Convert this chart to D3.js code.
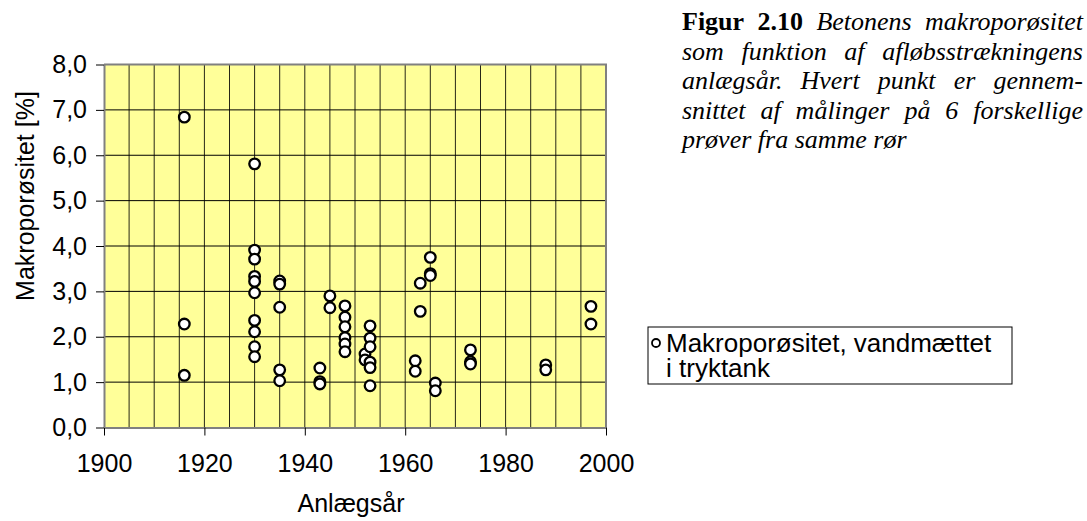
<!DOCTYPE html>
<html>
<head>
<meta charset="utf-8">
<script src="https://d3js.org/d3.v7.min.js"></script>
<style>
    body { margin: 0; background: #fff; }
    svg { display: block; }
    .axis text { font-family: 'Liberation Sans', Arial, sans-serif; font-size: 25px; fill: #000; }
    .axis .domain { stroke: #808080; stroke-width: 2px; }
    .axis .tick line { stroke: #000; }
</style>
</head>
<body>
<svg id="chart" width="1087" height="521"></svg>
<script>
    // data (year, macroporosity %)
    var years = [
        1916, 1916, 1916,
        1930, 1930, 1930, 1930, 1930, 1930, 1930, 1930, 1930, 1930,
        1935, 1935, 1935, 1935, 1935,
        1943, 1943, 1943,
        1945, 1945,
        1948, 1948, 1948, 1948, 1948, 1948,
        1952, 1952,
        1953, 1953, 1953, 1953, 1953, 1953,
        1962, 1962,
        1963, 1963,
        1965, 1965, 1965,
        1966, 1966,
        1973, 1973, 1973,
        1988, 1988,
        1997, 1997
    ];
    var porosity = [
        6.84, 2.28, 1.15,
        5.81, 3.91, 3.71, 3.33, 3.22, 2.97, 2.36, 2.11, 1.78, 1.56,
        3.23, 3.16, 2.65, 1.27, 1.03,
        1.31, 1.01, 0.96,
        2.90, 2.64,
        2.68, 2.43, 2.22, 1.98, 1.84, 1.67,
        1.62, 1.49,
        2.24, 1.97, 1.78, 1.44, 1.32, 0.92,
        1.47, 1.24,
        3.18, 2.56,
        3.75, 3.39, 3.35,
        0.98, 0.81,
        1.71, 1.45, 1.40,
        1.38, 1.27,
        2.67, 2.28
    ];
    var xTicks = [1900, 1920, 1940, 1960, 1980, 2000];
    var yTicks = [0, 1, 2, 3, 4, 5, 6, 7, 8];
    var xTitle = "Anlægsår";
    var yTitle = "Makroporøsitet [%]";
    var legendLines = ["Makroporøsitet, vandmættet", "i tryktank"];
    var captionLines = [
        [["Figur", "b"], ["2.10", "b"], ["Betonens", "i"], ["makroporøsitet", "i"]],
        [["som", "i"], ["funktion", "i"], ["af", "i"], ["afløbsstrækningens", "i"]],
        [["anlægsår.", "i"], ["Hvert", "i"], ["punkt", "i"], ["er", "i"], ["gennem-", "i"]],
        [["snittet", "i"], ["af", "i"], ["målinger", "i"], ["på", "i"], ["6", "i"], ["forskellige", "i"]],
        [["prøver fra samme rør", "i"]]
    ];

    var svg = d3.select("#chart");
    var plotLeft = 104, plotTop = 64.5, plotW = 502, plotH = 363;
    var font = "'Liberation Sans', Arial, sans-serif";

    var x = d3.scaleLinear().domain([1900, 2000]).range([plotLeft, plotLeft + plotW]);
    var y = d3.scaleLinear().domain([0, 8]).range([plotTop + plotH, plotTop]);

    // plot background
    svg.append("rect")
        .attr("x", plotLeft).attr("y", plotTop)
        .attr("width", plotW).attr("height", plotH)
        .attr("fill", "#ffff99");

    // gridlines
    var g = svg.append("g");
    g.selectAll(".vgrid").data(d3.range(1905, 2000, 5)).join("line")
        .attr("x1", d => x(d)).attr("x2", d => x(d))
        .attr("y1", plotTop).attr("y2", plotTop + plotH)
        .attr("stroke", "#000").attr("stroke-opacity", 0.85).attr("stroke-width", 1);
    g.selectAll(".hgrid").data(d3.range(1, 8)).join("line")
        .attr("x1", plotLeft).attr("x2", plotLeft + plotW)
        .attr("y1", d => y(d)).attr("y2", d => y(d))
        .attr("stroke", "#000").attr("stroke-width", 1);

    // border top / right
    svg.append("path")
        .attr("d", "M" + plotLeft + "," + plotTop + "H" + (plotLeft + plotW) + "V" + (plotTop + plotH))
        .attr("fill", "none").attr("stroke", "#808080").attr("stroke-width", 2);

    // axes
    svg.append("g").attr("class", "axis")
        .attr("transform", "translate(0," + (plotTop + plotH) + ")")
        .call(d3.axisBottom(x).tickValues(xTicks).tickSize(8).tickPadding(19).tickSizeOuter(0)
            .tickFormat(d3.format("d")));
    svg.append("g").attr("class", "axis")
        .attr("transform", "translate(" + plotLeft + ",0)")
        .call(d3.axisLeft(y).tickValues(yTicks).tickSize(8).tickPadding(9).tickSizeOuter(0)
            .tickFormat(d => d3.format(".1f")(d).replace(".", ",")));

    // axis titles
    svg.append("text")
        .attr("x", x(1950) - 4).attr("y", 512)
        .attr("text-anchor", "middle")
        .style("font-family", font).style("font-size", "25px")
        .text(xTitle);
    svg.append("text")
        .attr("transform", "translate(34,196) rotate(-90)")
        .attr("text-anchor", "middle")
        .style("font-family", font).style("font-size", "25px")
        .text(yTitle);

    // points
    svg.append("g").selectAll("circle").data(years).join("circle")
        .attr("cx", d => x(d))
        .attr("cy", (d, i) => y(porosity[i]))
        .attr("r", 5.3)
        .attr("fill", "#fff")
        .attr("stroke", "#000")
        .attr("stroke-width", 2.3);

    // legend
    var lg = svg.append("g");
    lg.append("rect")
        .attr("x", 648).attr("y", 327).attr("width", 364).attr("height", 57)
        .attr("fill", "#fff").attr("stroke", "#000").attr("stroke-width", 1);
    lg.append("circle")
        .attr("cx", 656).attr("cy", 343).attr("r", 4)
        .attr("fill", "#fff").attr("stroke", "#000").attr("stroke-width", 1.8);
    lg.selectAll("text").data(legendLines).join("text")
        .attr("x", 666)
        .attr("y", (d, i) => 352 + i * 25)
        .style("font-family", font).style("font-size", "26px")
        .text(d => d);

    // caption, justified by hand
    var capLeft = 682, capRight = 1083;
    captionLines.forEach(function(words, li) {
        var by = 30 + li * 29.5;
        var nodes = words.map(function(w) {
            return svg.append("text")
                .attr("y", by)
                .style("font-family", "'Liberation Serif', 'Times New Roman', serif")
                .style("font-size", "26px")
                .style("font-weight", w[1] == "b" ? "bold" : "normal")
                .style("font-style", w[1] == "i" ? "italic" : "normal")
                .text(w[0]);
        });
        var widths = nodes.map(n => n.node().getComputedTextLength());
        var gap = 7;
        if (li < captionLines.length - 1 && nodes.length > 1) {
            gap = (capRight - capLeft - d3.sum(widths)) / (nodes.length - 1);
        }
        var cx = capLeft;
        nodes.forEach(function(n, k) {
            n.attr("x", cx);
            cx += widths[k] + gap;
        });
    });
</script>
</body>
</html>
